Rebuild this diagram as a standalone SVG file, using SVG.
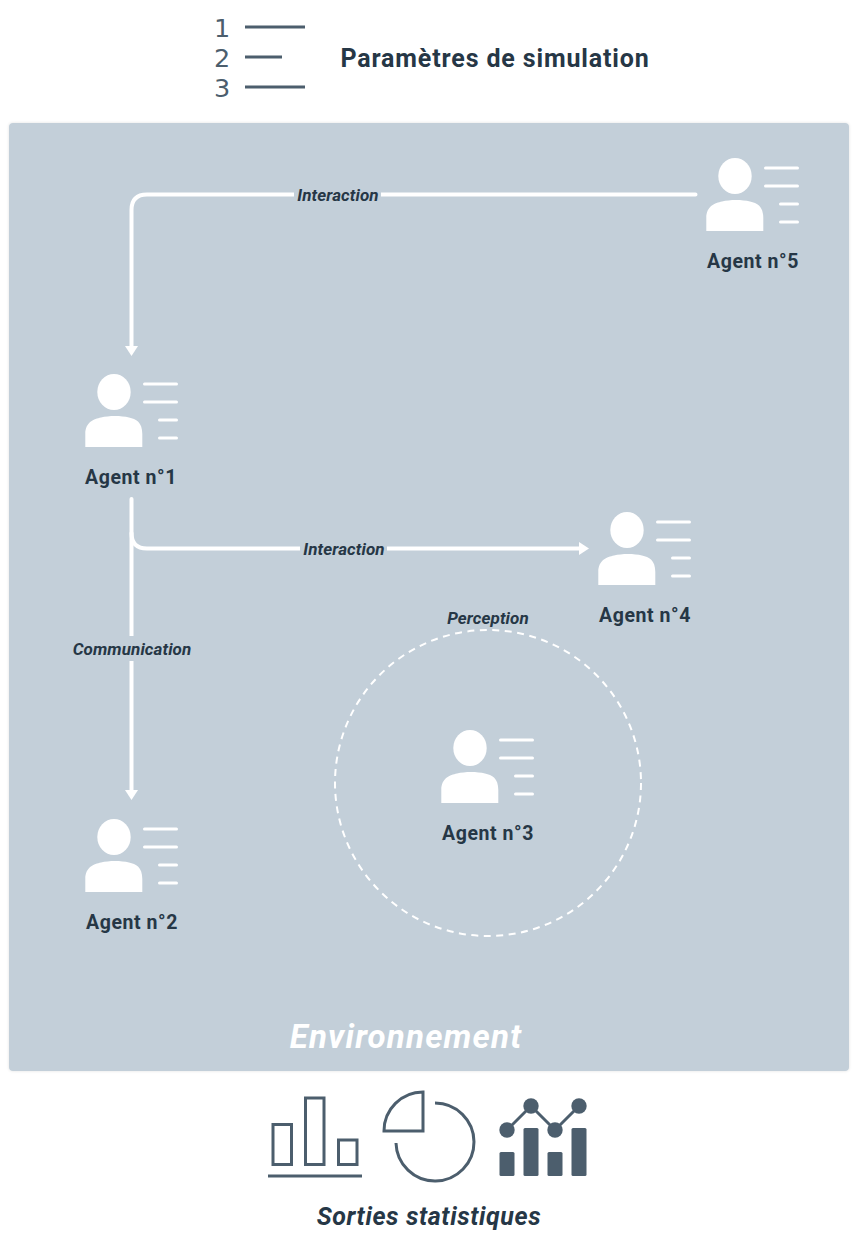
<svg xmlns="http://www.w3.org/2000/svg" xmlns:xlink="http://www.w3.org/1999/xlink" width="858" height="1243" viewBox="0 0 858 1243">
<style>
text{font-family:"Roboto","Liberation Sans",sans-serif;fill:#263746;text-anchor:middle}
.a{font-size:19.5px;font-weight:700;letter-spacing:.55px}
.l{font-size:17px;font-weight:700;font-style:italic;letter-spacing:.1px}
.d{font-size:25.5px;font-family:"DejaVu Sans",sans-serif;font-weight:400;fill:#4c5e6d}
.w{fill:none;stroke:#fff;stroke-width:4;stroke-linecap:round;stroke-linejoin:round}
.i{fill:none;stroke:#fff;stroke-width:3;stroke-linecap:round}
.g{fill:none;stroke:#4c5e6d;stroke-width:3}
.s{fill:#4c5e6d}
</style>
<defs>
<filter id="sh" x="-2%" y="-2%" width="104%" height="104%"><feDropShadow dx="0" dy="0" stdDeviation="1.5" flood-color="#000" flood-opacity=".12"/></filter>
<marker id="ah" markerUnits="userSpaceOnUse" markerWidth="12" markerHeight="14" refX="1" refY="6.5" orient="auto"><path d="M0 0L10 6.500L0 13Z" fill="#fff"/></marker>
<g id="p">
<ellipse cx="35" cy="18" rx="16.7" ry="18" fill="#fff"/>
<path d="M6.300 73V60C6.300 48 15 45 22 43.500C30 41.500 42 41.500 50 43.500C57 45 63.300 48 63.300 60V73Z" fill="#fff"/>
<path d="M65.500 10H97.500M65.500 28H97.500M80.500 46H97.500M80.500 64H97.500" class="i"/>
</g>
</defs>
<rect width="858" height="1243" fill="#fff"/>
<g id="parametres">
<text x="222" y="37" class="d">1</text>
<text x="222" y="67" class="d">2</text>
<text x="222" y="97" class="d">3</text>
<path d="M245 27H305M245 57H282M245 87H305" class="g"/>
<text x="495" y="67" style="font-size:25px;font-weight:700;letter-spacing:.85px">Paramètres de simulation</text>
</g>
<g id="environnement">
<rect x="9" y="123" width="840" height="948" rx="4" fill="#c3cfd9" filter="url(#sh)"/>
<text x="406" y="1048" style="font-size:33px;font-weight:700;font-style:italic;fill:#fff;letter-spacing:1.2px">Environnement</text>
</g>
<g id="connectors">
<path d="M695.500 194.500H147Q131.500 194.500 131.500 210V347" class="w" marker-end="url(#ah)"/>
<path d="M131.500 499V791" class="w" marker-end="url(#ah)"/>
<path d="M131.500 533Q131.500 548.500 147 548.500H580" class="w" marker-end="url(#ah)"/>
<circle cx="488" cy="783" r="153" fill="none" stroke="#fff" stroke-width="2" stroke-dasharray="7 5.500"/>
<rect x="294" y="184" width="87" height="22" fill="#c3cfd9"/>
<rect x="300" y="538" width="87" height="22" fill="#c3cfd9"/>
<rect x="68" y="636" width="128" height="25" fill="#c3cfd9"/>
<text x="338" y="201" class="l">Interaction</text>
<text x="344" y="555" class="l">Interaction</text>
<text x="132" y="655" class="l">Communication</text>
<text x="488" y="624" class="l">Perception</text>
</g>
<g id="agent1"><use xlink:href="#p" href="#p" x="79" y="374"/><text x="131" y="484" class="a">Agent n°1</text></g>
<g id="agent2"><use xlink:href="#p" href="#p" x="79" y="819"/><text x="132" y="929" class="a">Agent n°2</text></g>
<g id="agent3"><use xlink:href="#p" href="#p" x="435" y="730"/><text x="488" y="840" class="a">Agent n°3</text></g>
<g id="agent4"><use xlink:href="#p" href="#p" x="592" y="512"/><text x="645" y="622" class="a">Agent n°4</text></g>
<g id="agent5"><use xlink:href="#p" href="#p" x="700" y="158"/><text x="753" y="268" class="a">Agent n°5</text></g>
<g id="sorties">
<path d="M268 1176H362" class="g"/>
<rect x="273" y="1124.500" width="18.500" height="40" class="g"/>
<rect x="305.500" y="1098" width="18.500" height="66.500" class="g"/>
<rect x="338.500" y="1140" width="18.500" height="24.500" class="g"/>
<path d="M423 1092V1131H384A39 39 0 0 1 423 1092Z" class="g"/>
<path d="M435 1103A39 39 0 1 1 396 1143" class="g"/>
<path d="M507 1130L531 1106L555 1130L579 1106" class="g"/>
<circle cx="507" cy="1130" r="7.700" class="s"/>
<circle cx="531" cy="1106" r="7.700" class="s"/>
<circle cx="555" cy="1130" r="7.700" class="s"/>
<circle cx="579" cy="1106" r="7.700" class="s"/>
<rect x="499.500" y="1152" width="15" height="24" rx="1.500" class="s"/>
<rect x="523.500" y="1128" width="15" height="48" rx="1.500" class="s"/>
<rect x="547.500" y="1152" width="15" height="24" rx="1.500" class="s"/>
<rect x="571.500" y="1128" width="15" height="48" rx="1.500" class="s"/>
<text x="429" y="1225" style="font-size:25px;font-weight:700;font-style:italic;letter-spacing:.6px">Sorties statistiques</text>
</g>
</svg>
